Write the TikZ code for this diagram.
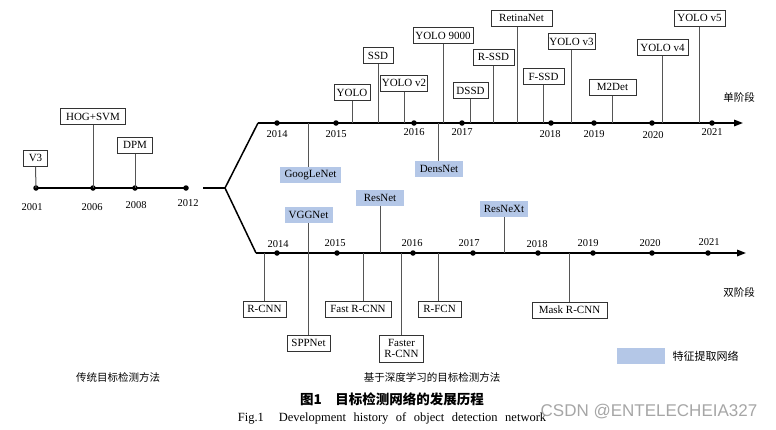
\documentclass[tikz,border=0pt]{standalone}
\usepackage{fontspec}
\setmainfont{Liberation Serif}
\newfontfamily\cjk{Noto Sans CJK SC}
\newfontfamily\wmfont{Liberation Sans}
\usetikzlibrary{arrows.meta}
\definecolor{featblue}{RGB}{180,199,231}
\definecolor{stemgray}{RGB}{85,85,85}
\begin{document}
\begin{tikzpicture}[x=1pt,y=-1pt,
  every node/.style={font=\fontsize{11}{11.5}\selectfont},
  bx/.style={draw=black!80, line width=1pt, fill=white, minimum height=16pt, inner sep=1pt},
  feat/.style={fill=featblue, minimum height=16pt, inner sep=1pt},
  stem/.style={draw=stemgray, line width=1pt},
  tl/.style={line width=1.6pt},
  dot/.style={circle, fill=black, inner sep=0pt, minimum size=5.5pt},
  yr/.style={font=\fontsize{10.5}{12}\selectfont},
  zh/.style={font=\cjk\fontsize{10.5}{12}\selectfont}
]
\useasboundingbox (0,0) rectangle (776,429);

% ---------- traditional timeline ----------
\node[dot] (d2001) at (36,188) {};
\node[dot] (d2006) at (93,188) {};
\node[dot] (d2008) at (135,188) {};
\node[dot] (d2012) at (186,188) {};
\draw[tl] (d2001.center) -- (d2012.center);
\node[yr] (t2001) at (32,207) {2001};
\node[yr] (t2006) at (92,207) {2006};
\node[yr] (t2008) at (136,205) {2008};
\node[yr] (t2012) at (188,203) {2012};

\node[bx, minimum width=24pt] (v3) at (35.5,158) {V3};
\node[bx, minimum width=65pt] (hog) at (93,116.5) {HOG+SVM};
\node[bx, minimum width=35pt] (dpm) at (135,145) {DPM};
\draw[stem] (v3.south) -- (d2001.center);
\draw[stem] (hog.south) -- (d2006.center);
\draw[stem] (dpm.south) -- (d2008.center);

% ---------- branch ----------
\coordinate (bl) at (203,188);
\coordinate (bj) at (225,188);
\coordinate (us) at (258,123);
\coordinate (ue) at (743,123);
\coordinate (ls) at (256,253);
\coordinate (le) at (746,253);
\draw[line width=1.5pt] (bl) -- (bj);
\draw[line width=1.5pt, line join=miter] (us) -- (bj) -- (ls);
\draw[tl, -{Triangle[length=9pt,width=6.5pt]}] (us) -- (ue);
\draw[tl, -{Triangle[length=9pt,width=6.5pt]}] (ls) -- (le);

% ---------- upper (single-stage) dots and years ----------
\foreach \x/\n in {277/u2014,336/u2015,414/u2016,462/u2017,551/u2018,594/u2019,652/u2020,712/u2021}
  \node[dot] (\n) at (\x,123) {};
\node[yr] (uy2014) at (277,134) {2014};
\node[yr] (uy2015) at (336,134) {2015};
\node[yr] (uy2016) at (414,132) {2016};
\node[yr] (uy2017) at (462,132) {2017};
\node[yr] (uy2018) at (550,134) {2018};
\node[yr] (uy2019) at (594,134) {2019};
\node[yr] (uy2020) at (653,135) {2020};
\node[yr] (uy2021) at (712,132) {2021};

% single-stage detectors
\node[bx, minimum width=36pt] (yolo) at (352,92.5) {YOLO};
\node[bx, minimum width=30pt] (ssd) at (378,55.5) {SSD};
\node[bx, minimum width=46pt] (yolo2) at (404,83) {YOLO v2};
\node[bx, minimum width=60pt] (yolo9k) at (443,35.5) {YOLO 9000};
\node[bx, minimum width=35pt] (dssd) at (470.5,90.5) {DSSD};
\node[bx, minimum width=41pt] (rssd) at (493.5,57) {R-SSD};
\node[bx, minimum width=61pt] (retina) at (521.5,18) {RetinaNet};
\node[bx, minimum width=41pt] (fssd) at (543.5,76.5) {F-SSD};
\node[bx, minimum width=47pt] (yolo3) at (571.5,41.5) {YOLO v3};
\node[bx, minimum width=47pt] (m2det) at (612.5,87) {M2Det};
\node[bx, minimum width=51pt] (yolo4) at (662.5,47.5) {YOLO v4};
\node[bx, minimum width=51pt] (yolo5) at (699.5,18) {YOLO v5};
\foreach \b in {yolo,ssd,yolo2,yolo9k,dssd,rssd,fssd,yolo3,m2det,yolo4,yolo5}
  \draw[stem] (\b.south) -- (\b.south |- us);
\draw[stem] ([xshift=-4.5pt]retina.south) -- ([xshift=-4.5pt]retina.south |- us);

% feature networks on upper line
\node[feat, minimum width=61pt] (goog) at (310.5,175) {GoogLeNet};
\node[feat, minimum width=48pt] (dens) at (439,169) {DensNet};
\draw[stem] ([xshift=-2.5pt]goog.north |- us) -- ([xshift=-2.5pt]goog.north);
\draw[stem] ([xshift=-1pt]dens.north |- us) -- ([xshift=-1pt]dens.north);

\node[zh] (single) at (739,97) {单阶段};

% ---------- lower (two-stage) dots and years ----------
\foreach \x/\n in {277/l2014,337/l2015,413/l2016,473/l2017,538/l2018,593/l2019,652/l2020,708/l2021}
  \node[dot] (\n) at (\x,253) {};
\node[yr] (ly2014) at (278,244) {2014};
\node[yr] (ly2015) at (335,243) {2015};
\node[yr] (ly2016) at (412,243) {2016};
\node[yr] (ly2017) at (469,243) {2017};
\node[yr] (ly2018) at (537,244) {2018};
\node[yr] (ly2019) at (588,243) {2019};
\node[yr] (ly2020) at (650,243) {2020};
\node[yr] (ly2021) at (709,242) {2021};

% feature networks on lower line
\node[feat, minimum width=48pt] (vgg) at (308.5,215) {VGGNet};
\node[feat, minimum width=48pt] (res) at (380,197.5) {ResNet};
\node[feat, minimum width=48pt] (resx) at (504,209) {ResNeXt};

% two-stage detectors
\node[bx, minimum width=43pt] (rcnn) at (264.5,309) {R-CNN};
\node[bx, minimum width=43pt] (spp) at (308.5,343) {SPPNet};
\node[bx, minimum width=66pt] (frcnn) at (358,309) {Fast R-CNN};
\node[bx, minimum width=44pt, minimum height=27pt, align=center] (fasterrcnn) at (401.5,348.5) {Faster\\R-CNN};
\node[bx, minimum width=43pt] (rfcn) at (439.5,309) {R-FCN};
\node[bx, minimum width=75pt] (mask) at (569.5,310) {Mask R-CNN};

\draw[stem] (vgg.south) -- (spp.north);
\draw[stem] (res.south) -- (res.south |- ls);
\draw[stem] (resx.south) -- (resx.south |- ls);
\draw[stem] (rcnn.north |- ls) -- (rcnn.north);
\draw[stem] ([xshift=5pt]frcnn.north |- ls) -- ([xshift=5pt]frcnn.north);
\draw[stem] (fasterrcnn.north |- ls) -- (fasterrcnn.north);
\draw[stem] ([xshift=-1.5pt]rfcn.north |- ls) -- ([xshift=-1.5pt]rfcn.north);
\draw[stem] (mask.north |- ls) -- (mask.north);

\node[zh] (double) at (739,292) {双阶段};

% ---------- legend ----------
\node[feat, minimum width=48pt] (leg) at (641,356) {};
\node[zh, anchor=west, font=\cjk\fontsize{11}{12}\selectfont] (legt) at (669,356) {特征提取网络};

% ---------- captions ----------
\node[zh] (trad) at (118,377) {传统目标检测方法};
\node[zh] (deep) at (432,377) {基于深度学习的目标检测方法};
\node[font=\cjk\bfseries\fontsize{13.5}{15}\selectfont] (cap1) at (392,399) {图1\hspace{1em}目标检测网络的发展历程};
\node[font=\fontsize{12.5}{14}\selectfont] (cap2) at (392,418) {\spaceskip=7.5pt Fig.1\hspace{1.2em}Development history of object detection network};
\node[font=\wmfont\fontsize{17}{20}\selectfont, text=black!35] (wm) at (649,412) {CSDN @ENTELECHEIA327};
\end{tikzpicture}
\end{document}
